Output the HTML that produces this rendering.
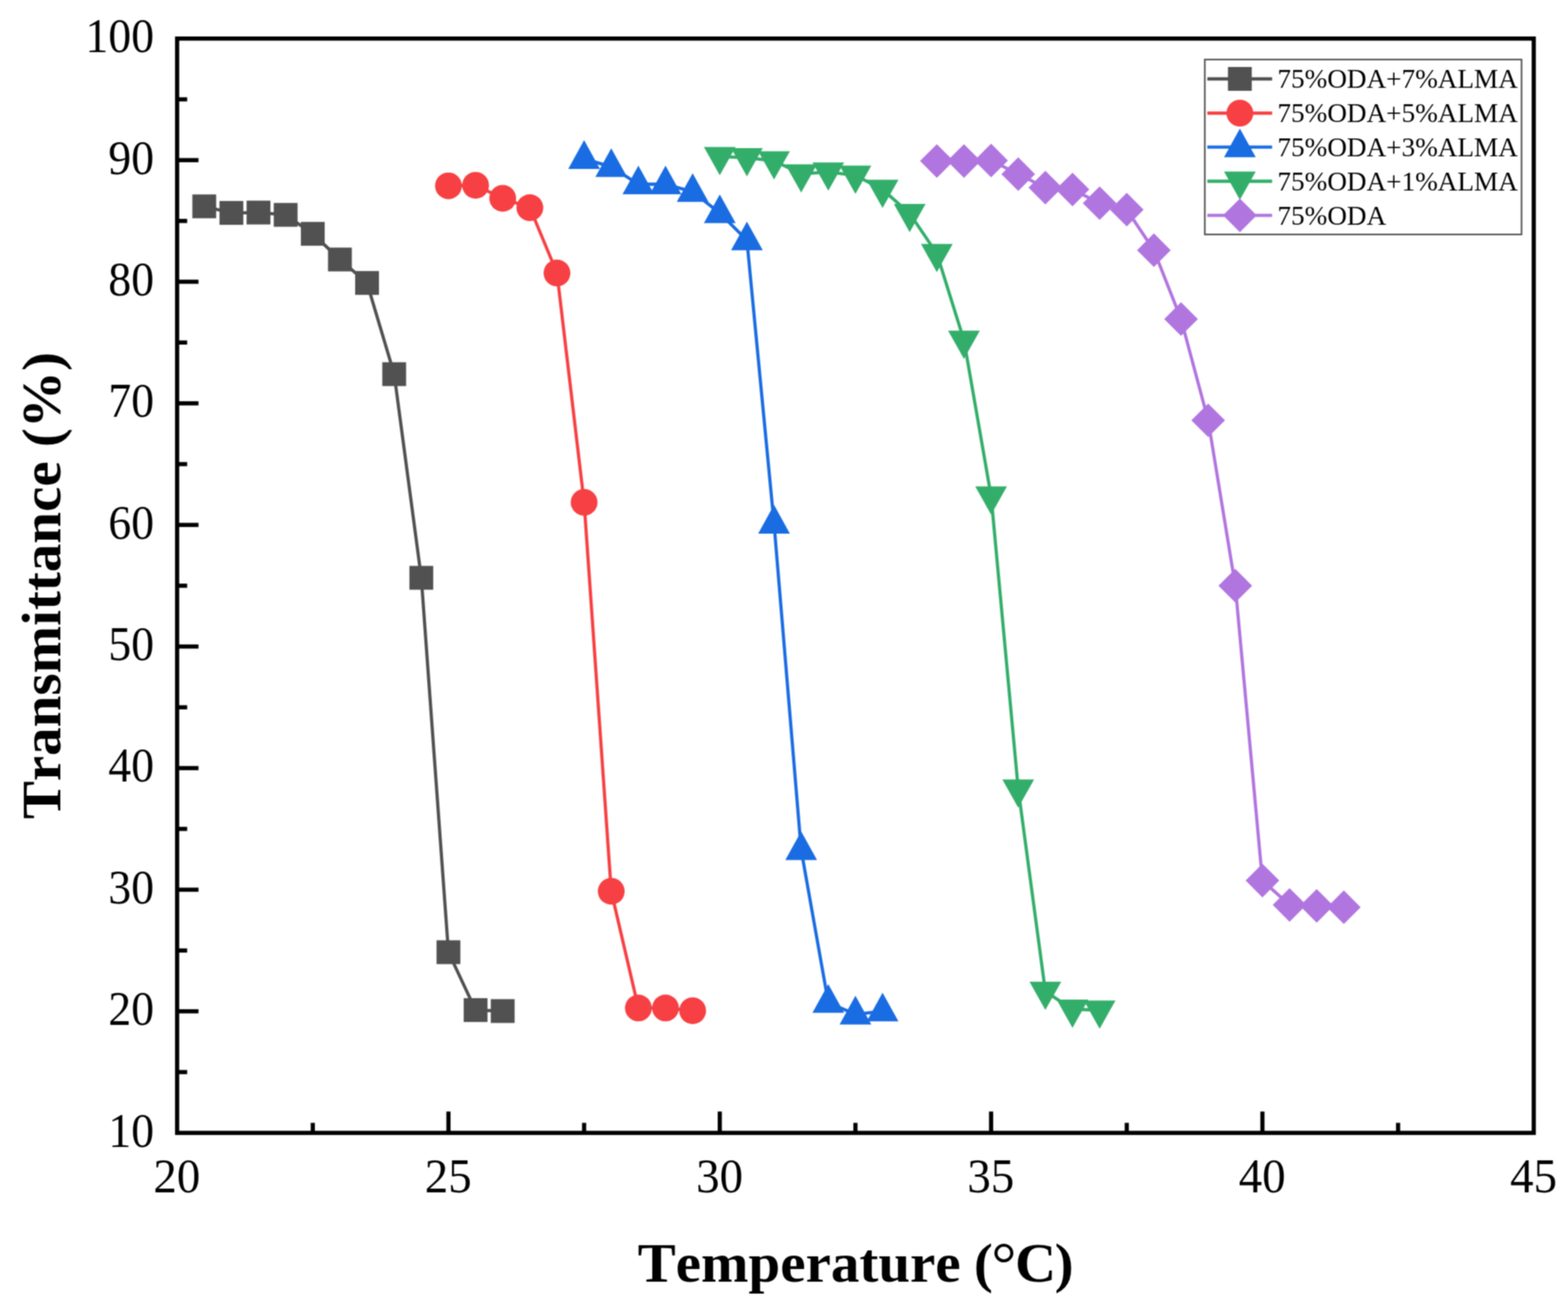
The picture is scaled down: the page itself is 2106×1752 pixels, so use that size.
<!DOCTYPE html>
<html><head><meta charset="utf-8"><title>Transmittance vs Temperature</title>
<style>
html,body{margin:0;padding:0;background:#fff;}
body{width:2106px;height:1752px;overflow:hidden;}
svg{display:block;}
text{font-family:"Liberation Serif",serif;fill:#000;}
.tk{font-size:66px;}
.ti{font-size:74.5px;font-weight:bold;font-kerning:none;}
.lg{font-size:35.6px;}
.dc{font-weight:normal;font-size:82px;}
</style></head><body>
<svg width="2106" height="1752" viewBox="0 0 2106 1752">
<defs><filter id="soft" x="0" y="0" width="2106" height="1752" filterUnits="userSpaceOnUse" color-interpolation-filters="sRGB"><feConvolveMatrix order="3" kernelMatrix="1 2 1 2 4 2 1 2 1" edgeMode="duplicate" preserveAlpha="true"/></filter></defs>
<g filter="url(#soft)">
<rect x="0" y="0" width="2106" height="1752" fill="#ffffff"/>

<polyline fill="none" stroke="#515151" stroke-width="4.3" stroke-linejoin="round" points="274.34,277.25 310.78,286.07 347.23,285.58 383.67,288.68 420.11,314.17 456.55,348.64 492.99,380.17 529.44,502.69 565.88,776.33 602.32,1279.34 638.76,1357.10 675.20,1358.41"/>
<rect x="258.34" y="261.25" width="32.0" height="32.0" fill="#515151"/>
<rect x="294.78" y="270.07" width="32.0" height="32.0" fill="#515151"/>
<rect x="331.23" y="269.58" width="32.0" height="32.0" fill="#515151"/>
<rect x="367.67" y="272.68" width="32.0" height="32.0" fill="#515151"/>
<rect x="404.11" y="298.17" width="32.0" height="32.0" fill="#515151"/>
<rect x="440.55" y="332.64" width="32.0" height="32.0" fill="#515151"/>
<rect x="476.99" y="364.17" width="32.0" height="32.0" fill="#515151"/>
<rect x="513.44" y="486.69" width="32.0" height="32.0" fill="#515151"/>
<rect x="549.88" y="760.33" width="32.0" height="32.0" fill="#515151"/>
<rect x="586.32" y="1263.34" width="32.0" height="32.0" fill="#515151"/>
<rect x="622.76" y="1341.10" width="32.0" height="32.0" fill="#515151"/>
<rect x="659.20" y="1342.41" width="32.0" height="32.0" fill="#515151"/>
<polyline fill="none" stroke="#F74043" stroke-width="4.3" stroke-linejoin="round" points="602.32,249.64 638.76,248.98 675.20,266.46 711.65,279.04 748.09,366.77 784.53,674.88 820.97,1197.49 857.41,1354.32 893.86,1354.32 930.30,1357.92"/>
<circle cx="602.32" cy="249.64" r="18.0" fill="#F74043"/>
<circle cx="638.76" cy="248.98" r="18.0" fill="#F74043"/>
<circle cx="675.20" cy="266.46" r="18.0" fill="#F74043"/>
<circle cx="711.65" cy="279.04" r="18.0" fill="#F74043"/>
<circle cx="748.09" cy="366.77" r="18.0" fill="#F74043"/>
<circle cx="784.53" cy="674.88" r="18.0" fill="#F74043"/>
<circle cx="820.97" cy="1197.49" r="18.0" fill="#F74043"/>
<circle cx="857.41" cy="1354.32" r="18.0" fill="#F74043"/>
<circle cx="893.86" cy="1354.32" r="18.0" fill="#F74043"/>
<circle cx="930.30" cy="1357.92" r="18.0" fill="#F74043"/>
<polyline fill="none" stroke="#1A6CE2" stroke-width="4.3" stroke-linejoin="round" points="784.53,213.37 820.97,224.15 857.41,247.51 893.86,247.51 930.30,257.64 966.74,286.23 1003.18,322.66 1039.62,703.31 1076.07,1141.95 1112.51,1347.13 1148.95,1362.82 1185.39,1358.73"/>
<polygon points="784.53,188.37 805.83,226.97 763.23,226.97" fill="#1A6CE2"/>
<polygon points="820.97,199.15 842.27,237.75 799.67,237.75" fill="#1A6CE2"/>
<polygon points="857.41,222.51 878.71,261.11 836.11,261.11" fill="#1A6CE2"/>
<polygon points="893.86,222.51 915.16,261.11 872.56,261.11" fill="#1A6CE2"/>
<polygon points="930.30,232.64 951.60,271.24 909.00,271.24" fill="#1A6CE2"/>
<polygon points="966.74,261.23 988.04,299.83 945.44,299.83" fill="#1A6CE2"/>
<polygon points="1003.18,297.66 1024.48,336.26 981.88,336.26" fill="#1A6CE2"/>
<polygon points="1039.62,678.31 1060.92,716.91 1018.32,716.91" fill="#1A6CE2"/>
<polygon points="1076.07,1116.95 1097.37,1155.55 1054.77,1155.55" fill="#1A6CE2"/>
<polygon points="1112.51,1322.13 1133.81,1360.73 1091.21,1360.73" fill="#1A6CE2"/>
<polygon points="1148.95,1337.82 1170.25,1376.42 1127.65,1376.42" fill="#1A6CE2"/>
<polygon points="1185.39,1333.73 1206.69,1372.33 1164.09,1372.33" fill="#1A6CE2"/>
<polyline fill="none" stroke="#33AE6A" stroke-width="4.3" stroke-linejoin="round" points="966.74,210.43 1003.18,211.90 1039.62,216.15 1076.07,233.63 1112.51,231.18 1148.95,235.59 1185.39,254.54 1221.83,286.88 1258.28,340.63 1294.72,457.28 1331.16,666.55 1367.60,1060.26 1404.04,1332.10 1440.49,1355.96 1476.93,1357.26"/>
<polygon points="966.74,235.43 988.04,197.43 945.44,197.43" fill="#33AE6A"/>
<polygon points="1003.18,236.90 1024.48,198.90 981.88,198.90" fill="#33AE6A"/>
<polygon points="1039.62,241.15 1060.92,203.15 1018.32,203.15" fill="#33AE6A"/>
<polygon points="1076.07,258.63 1097.37,220.63 1054.77,220.63" fill="#33AE6A"/>
<polygon points="1112.51,256.18 1133.81,218.18 1091.21,218.18" fill="#33AE6A"/>
<polygon points="1148.95,260.59 1170.25,222.59 1127.65,222.59" fill="#33AE6A"/>
<polygon points="1185.39,279.54 1206.69,241.54 1164.09,241.54" fill="#33AE6A"/>
<polygon points="1221.83,311.88 1243.13,273.88 1200.53,273.88" fill="#33AE6A"/>
<polygon points="1258.28,365.63 1279.58,327.63 1236.98,327.63" fill="#33AE6A"/>
<polygon points="1294.72,482.28 1316.02,444.28 1273.42,444.28" fill="#33AE6A"/>
<polygon points="1331.16,691.55 1352.46,653.55 1309.86,653.55" fill="#33AE6A"/>
<polygon points="1367.60,1085.26 1388.90,1047.26 1346.30,1047.26" fill="#33AE6A"/>
<polygon points="1404.04,1357.10 1425.34,1319.10 1382.74,1319.10" fill="#33AE6A"/>
<polygon points="1440.49,1380.96 1461.79,1342.96 1419.19,1342.96" fill="#33AE6A"/>
<polygon points="1476.93,1382.26 1498.23,1344.26 1455.63,1344.26" fill="#33AE6A"/>
<polyline fill="none" stroke="#B175DF" stroke-width="4.3" stroke-linejoin="round" points="1258.28,216.31 1294.72,216.31 1331.16,215.66 1367.60,233.95 1404.04,252.09 1440.49,254.54 1476.93,273.00 1513.37,281.66 1549.81,336.22 1586.25,428.69 1622.70,564.77 1659.14,786.95 1695.58,1183.11 1732.02,1215.79 1768.46,1217.09 1804.91,1218.89"/>
<polygon points="1258.28,193.71 1280.88,216.31 1258.28,238.91 1235.68,216.31" fill="#B175DF"/>
<polygon points="1294.72,193.71 1317.32,216.31 1294.72,238.91 1272.12,216.31" fill="#B175DF"/>
<polygon points="1331.16,193.06 1353.76,215.66 1331.16,238.26 1308.56,215.66" fill="#B175DF"/>
<polygon points="1367.60,211.35 1390.20,233.95 1367.60,256.55 1345.00,233.95" fill="#B175DF"/>
<polygon points="1404.04,229.49 1426.64,252.09 1404.04,274.69 1381.44,252.09" fill="#B175DF"/>
<polygon points="1440.49,231.94 1463.09,254.54 1440.49,277.14 1417.89,254.54" fill="#B175DF"/>
<polygon points="1476.93,250.40 1499.53,273.00 1476.93,295.60 1454.33,273.00" fill="#B175DF"/>
<polygon points="1513.37,259.06 1535.97,281.66 1513.37,304.26 1490.77,281.66" fill="#B175DF"/>
<polygon points="1549.81,313.62 1572.41,336.22 1549.81,358.82 1527.21,336.22" fill="#B175DF"/>
<polygon points="1586.25,406.09 1608.85,428.69 1586.25,451.29 1563.65,428.69" fill="#B175DF"/>
<polygon points="1622.70,542.17 1645.30,564.77 1622.70,587.37 1600.10,564.77" fill="#B175DF"/>
<polygon points="1659.14,764.35 1681.74,786.95 1659.14,809.55 1636.54,786.95" fill="#B175DF"/>
<polygon points="1695.58,1160.51 1718.18,1183.11 1695.58,1205.71 1672.98,1183.11" fill="#B175DF"/>
<polygon points="1732.02,1193.19 1754.62,1215.79 1732.02,1238.39 1709.42,1215.79" fill="#B175DF"/>
<polygon points="1768.46,1194.49 1791.06,1217.09 1768.46,1239.69 1745.86,1217.09" fill="#B175DF"/>
<polygon points="1804.91,1196.29 1827.51,1218.89 1804.91,1241.49 1782.31,1218.89" fill="#B175DF"/>
<rect x="237.9" y="51.8" width="1822.1" height="1470.3" fill="none" stroke="#000" stroke-width="5.6"/>
<line x1="237.9" y1="1440.42" x2="251.4" y2="1440.42" stroke="#000" stroke-width="5.6"/>
<line x1="237.9" y1="1358.73" x2="266.6" y2="1358.73" stroke="#000" stroke-width="5.6"/>
<line x1="237.9" y1="1277.05" x2="251.4" y2="1277.05" stroke="#000" stroke-width="5.6"/>
<line x1="237.9" y1="1195.37" x2="266.6" y2="1195.37" stroke="#000" stroke-width="5.6"/>
<line x1="237.9" y1="1113.68" x2="251.4" y2="1113.68" stroke="#000" stroke-width="5.6"/>
<line x1="237.9" y1="1032.00" x2="266.6" y2="1032.00" stroke="#000" stroke-width="5.6"/>
<line x1="237.9" y1="950.32" x2="251.4" y2="950.32" stroke="#000" stroke-width="5.6"/>
<line x1="237.9" y1="868.63" x2="266.6" y2="868.63" stroke="#000" stroke-width="5.6"/>
<line x1="237.9" y1="786.95" x2="251.4" y2="786.95" stroke="#000" stroke-width="5.6"/>
<line x1="237.9" y1="705.27" x2="266.6" y2="705.27" stroke="#000" stroke-width="5.6"/>
<line x1="237.9" y1="623.58" x2="251.4" y2="623.58" stroke="#000" stroke-width="5.6"/>
<line x1="237.9" y1="541.90" x2="266.6" y2="541.90" stroke="#000" stroke-width="5.6"/>
<line x1="237.9" y1="460.22" x2="251.4" y2="460.22" stroke="#000" stroke-width="5.6"/>
<line x1="237.9" y1="378.53" x2="266.6" y2="378.53" stroke="#000" stroke-width="5.6"/>
<line x1="237.9" y1="296.85" x2="251.4" y2="296.85" stroke="#000" stroke-width="5.6"/>
<line x1="237.9" y1="215.17" x2="266.6" y2="215.17" stroke="#000" stroke-width="5.6"/>
<line x1="237.9" y1="133.48" x2="251.4" y2="133.48" stroke="#000" stroke-width="5.6"/>
<line x1="420.11" y1="1522.1" x2="420.11" y2="1508.6" stroke="#000" stroke-width="5.6"/>
<line x1="602.32" y1="1522.1" x2="602.32" y2="1493.3999999999999" stroke="#000" stroke-width="5.6"/>
<line x1="784.53" y1="1522.1" x2="784.53" y2="1508.6" stroke="#000" stroke-width="5.6"/>
<line x1="966.74" y1="1522.1" x2="966.74" y2="1493.3999999999999" stroke="#000" stroke-width="5.6"/>
<line x1="1148.95" y1="1522.1" x2="1148.95" y2="1508.6" stroke="#000" stroke-width="5.6"/>
<line x1="1331.16" y1="1522.1" x2="1331.16" y2="1493.3999999999999" stroke="#000" stroke-width="5.6"/>
<line x1="1513.37" y1="1522.1" x2="1513.37" y2="1508.6" stroke="#000" stroke-width="5.6"/>
<line x1="1695.58" y1="1522.1" x2="1695.58" y2="1493.3999999999999" stroke="#000" stroke-width="5.6"/>
<line x1="1877.79" y1="1522.1" x2="1877.79" y2="1508.6" stroke="#000" stroke-width="5.6"/>
<text class="tk" transform="translate(206.9,1540.50) scale(0.93,1)" text-anchor="end">10</text>
<text class="tk" transform="translate(206.9,1377.13) scale(0.93,1)" text-anchor="end">20</text>
<text class="tk" transform="translate(206.9,1213.77) scale(0.93,1)" text-anchor="end">30</text>
<text class="tk" transform="translate(206.9,1050.40) scale(0.93,1)" text-anchor="end">40</text>
<text class="tk" transform="translate(206.9,887.03) scale(0.93,1)" text-anchor="end">50</text>
<text class="tk" transform="translate(206.9,723.67) scale(0.93,1)" text-anchor="end">60</text>
<text class="tk" transform="translate(206.9,560.30) scale(0.93,1)" text-anchor="end">70</text>
<text class="tk" transform="translate(206.9,396.93) scale(0.93,1)" text-anchor="end">80</text>
<text class="tk" transform="translate(206.9,233.57) scale(0.93,1)" text-anchor="end">90</text>
<text class="tk" transform="translate(206.9,70.20) scale(0.93,1)" text-anchor="end">100</text>
<text class="tk" transform="translate(237.60,1601.5) scale(0.955,1)" text-anchor="middle">20</text>
<text class="tk" transform="translate(602.02,1601.5) scale(0.955,1)" text-anchor="middle">25</text>
<text class="tk" transform="translate(966.44,1601.5) scale(0.955,1)" text-anchor="middle">30</text>
<text class="tk" transform="translate(1330.86,1601.5) scale(0.955,1)" text-anchor="middle">35</text>
<text class="tk" transform="translate(1695.28,1601.5) scale(0.955,1)" text-anchor="middle">40</text>
<text class="tk" transform="translate(2059.70,1601.5) scale(0.955,1)" text-anchor="middle">45</text>
<text class="ti" transform="translate(856.5,1721.8) scale(1.028,1)" text-anchor="start" word-spacing="-1.5">Temperature <tspan letter-spacing="-1.9">(<tspan class="dc" dy="4.4">°</tspan><tspan dy="-4.4">C)</tspan></tspan></text>
<text class="ti" transform="translate(81.0,786.8) rotate(-90) scale(1.028,1)" text-anchor="middle">Transmittance (%)</text>
<rect x="1618.2" y="80.0" width="425.39999999999986" height="235.0" fill="#fff" stroke="#555" stroke-width="2.2"/>
<line x1="1621.6" y1="106.0" x2="1708.6" y2="106.0" stroke="#515151" stroke-width="4.3"/>
<rect x="1649.30" y="90.00" width="32.0" height="32.0" fill="#515151"/>
<text class="lg" transform="translate(1715.8,118.30) scale(1.026,1)">75%ODA+7%ALMA</text>
<line x1="1621.6" y1="152.0" x2="1708.6" y2="152.0" stroke="#F74043" stroke-width="4.3"/>
<circle cx="1665.30" cy="152.00" r="18.0" fill="#F74043"/>
<text class="lg" transform="translate(1715.8,164.30) scale(1.026,1)">75%ODA+5%ALMA</text>
<line x1="1621.6" y1="197.7" x2="1708.6" y2="197.7" stroke="#1A6CE2" stroke-width="4.3"/>
<polygon points="1665.30,172.70 1686.60,211.30 1644.00,211.30" fill="#1A6CE2"/>
<text class="lg" transform="translate(1715.8,210.00) scale(1.026,1)">75%ODA+3%ALMA</text>
<line x1="1621.6" y1="243.5" x2="1708.6" y2="243.5" stroke="#33AE6A" stroke-width="4.3"/>
<polygon points="1665.30,268.50 1686.60,230.50 1644.00,230.50" fill="#33AE6A"/>
<text class="lg" transform="translate(1715.8,255.80) scale(1.026,1)">75%ODA+1%ALMA</text>
<line x1="1621.6" y1="289.3" x2="1708.6" y2="289.3" stroke="#B175DF" stroke-width="4.3"/>
<polygon points="1665.30,266.70 1687.90,289.30 1665.30,311.90 1642.70,289.30" fill="#B175DF"/>
<text class="lg" transform="translate(1715.8,301.60) scale(1.026,1)">75%ODA</text>
</g>
</svg>
</body></html>
